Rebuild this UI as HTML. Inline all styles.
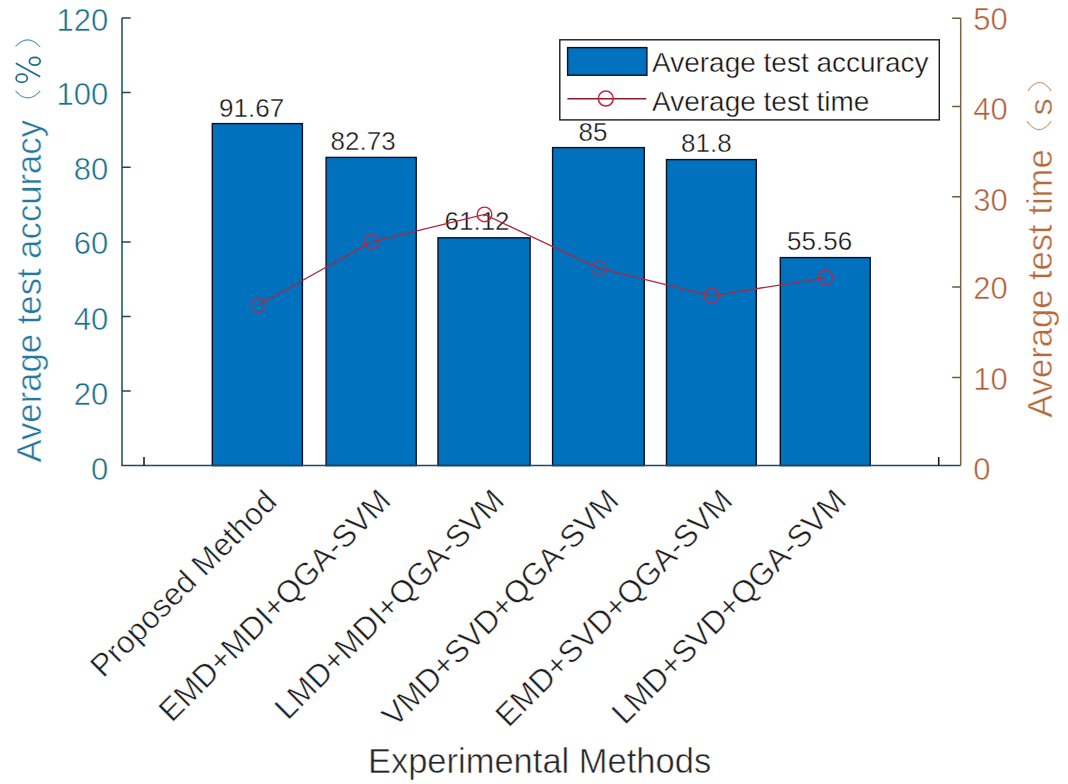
<!DOCTYPE html>
<html><head><meta charset="utf-8"><style>
html,body{margin:0;padding:0;background:#fff;width:1068px;height:784px;overflow:hidden}
svg{display:block}
text{font-family:"Liberation Sans",sans-serif}
</style></head><body>
<svg width="1068" height="784" viewBox="0 0 1068 784">
<rect width="1068" height="784" fill="#fff"/>
<!-- bars -->
<g fill="#0071BD" stroke="#0a0f2a" stroke-width="1.4">
<rect x="212.3" y="123.6" width="90.1" height="342.0"/>
<rect x="326.1" y="157.4" width="90.1" height="308.2"/>
<rect x="438" y="237.8" width="92.1" height="227.8"/>
<rect x="552.6" y="147.6" width="91.7" height="318.0"/>
<rect x="666.5" y="159.6" width="89.8" height="306.0"/>
<rect x="780.3" y="257.6" width="89.9" height="208.0"/>
</g>
<!-- bar value labels -->
<g font-size="26" fill="#111" stroke="#fff" stroke-width="0.4">
<text x="219.1" y="116.8">91.67</text>
<text x="330.6" y="150.0">82.73</text>
<text x="444.5" y="229.8">61.12</text>
<text x="578.6" y="140.6">85</text>
<text x="681" y="152.2">81.8</text>
<text x="787.1" y="249.7">55.56</text>
</g>
<!-- red line -->
<polyline points="258.5,305 371.6,241.8 484.5,214.4 598.6,268.2 711.7,295.8 825.3,277.8" fill="none" stroke="#B0283A" stroke-width="1.3"/>
<g fill="none" stroke="#A8305A" stroke-width="1.4">
<circle cx="258.5" cy="305" r="7.3"/>
<circle cx="371.6" cy="241.8" r="7.3"/>
<circle cx="598.6" cy="268.2" r="7.3"/>
<circle cx="711.7" cy="295.8" r="7.3"/>
<circle cx="825.3" cy="277.8" r="7.3"/>
</g>
<circle cx="484.5" cy="214.4" r="7.3" fill="none" stroke="#C8213A" stroke-width="1.4"/>
<!-- axes -->
<g stroke-width="1.5" fill="none">
<path d="M122,18 V465.6 H960.7" stroke="#1D4A63"/>
<path d="M960.7,18 V465.6" stroke="#7A6545"/>
<path d="M122,18H130.7 M122,92.6H130.7 M122,167.2H130.7 M122,242H130.7 M122,316.5H130.7 M122,391.1H130.7" stroke="#1D4A63"/>
<path d="M960.7,18.2H952.2 M960.7,106.5H952.2 M960.7,196.8H952.2 M960.7,286.9H952.2 M960.7,377.4H952.2" stroke="#6E5A40"/>
<path d="M144,465.6V457 M938.7,465.6V457" stroke="#111"/>
</g>
<!-- left tick labels -->
<g font-size="31" fill="#1B6F8C" text-anchor="end" stroke="#fff" stroke-width="0.5">
<text x="108.3" y="30.5">120</text>
<text x="108.3" y="105.4">100</text>
<text x="108.3" y="179.6">80</text>
<text x="108.3" y="254.3">60</text>
<text x="108.3" y="330.4">40</text>
<text x="108.3" y="405.2">20</text>
<text x="108.3" y="479.6">0</text>
</g>
<!-- right tick labels -->
<g font-size="31" fill="#B05E3A" stroke="#fff" stroke-width="0.5">
<text x="973.3" y="30.1">50</text>
<text x="973.3" y="120.1">40</text>
<text x="973.3" y="210.9">30</text>
<text x="973.3" y="299.2">20</text>
<text x="973.3" y="389.9">10</text>
<text x="973.3" y="479.9">0</text>
</g>
<!-- left y label -->
<text font-size="34.7" fill="#2479A0" stroke="#fff" stroke-width="0.5" transform="translate(40.6,462.5) rotate(-90)">Average test accuracy</text>
<g fill="none" stroke="#1E6A8A" stroke-width="1.7">
<path d="M15.8,63.2 L40.2,76.8"/>
<ellipse cx="34.8" cy="61.3" rx="5.4" ry="3.9"/>
<ellipse cx="21.7" cy="78.2" rx="5.6" ry="4.1"/>
</g>
<g fill="none" stroke="#5C9AB4" stroke-width="1.1">
<path d="M15.5,46.5 Q27.8,33 40.2,47"/>
<path d="M15.5,90.8 Q27.8,105 40.2,90.8"/>
</g>
<!-- right y label -->
<text font-size="34.6" fill="#B8693A" stroke="#fff" stroke-width="0.5" transform="translate(1052,417.8) rotate(-90)">Average test time</text>
<text font-size="34.6" fill="#A8683A" stroke="#fff" stroke-width="0.5" transform="translate(1052,115.5) scale(0.9,1) rotate(-90)">s</text>
<g fill="none" stroke="#C8946A" stroke-width="1.1">
<path d="M1028,91 Q1039.5,74 1051.2,91"/>
<path d="M1027,121.2 Q1039,138 1051.2,121.2"/>
</g>
<!-- x tick labels -->
<g font-size="31.4" fill="#1e1e1e" text-anchor="end" stroke="#fff" stroke-width="0.5">
<text transform="translate(278.5,503.5) rotate(-45)">Proposed Method</text>
<text transform="translate(392.6,502.6) rotate(-45)">EMD+MDI+QGA-SVM</text>
<text transform="translate(506.1,502.6) rotate(-45)">LMD+MDI+QGA-SVM</text>
<text transform="translate(620.6,502.6) rotate(-45)">VMD+SVD+QGA-SVM</text>
<text transform="translate(734.2,502.6) rotate(-45)">EMD+SVD+QGA-SVM</text>
<text transform="translate(847.9,502.6) rotate(-45)">LMD+SVD+QGA-SVM</text>
</g>
<!-- x label -->
<text x="367.9" y="773" font-size="34.5" fill="#262626" stroke="#fff" stroke-width="0.5">Experimental Methods</text>
<!-- legend -->
<rect x="559.8" y="39.8" width="379.5" height="80.1" fill="#fff" stroke="#1a1a1a" stroke-width="1.4"/>
<rect x="567.6" y="47.6" width="79.3" height="27.6" fill="#0071BD" stroke="#0a0f2a" stroke-width="1.4"/>
<path d="M567.4,98.7H646.2" stroke="#8A1A2A" stroke-width="1.4"/>
<circle cx="605.8" cy="98.6" r="7.5" fill="none" stroke="#C8213A" stroke-width="1.5"/>
<g font-size="28" fill="#111" stroke="#fff" stroke-width="0.4">
<text x="652" y="71.6">Average test accuracy</text>
<text x="652" y="110.5">Average test time</text>
</g>
</svg>
</body></html>
